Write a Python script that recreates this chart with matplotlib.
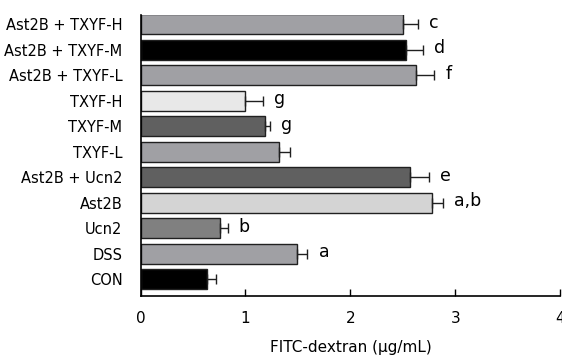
import matplotlib
matplotlib.use("Agg")
import matplotlib.pyplot as plt

categories = ["CON", "DSS", "Ucn2", "Ast2B", "Ast2B + Ucn2", "TXYF-L", "TXYF-M",
              "TXYF-H", "Ast2B + TXYF-L", "Ast2B + TXYF-M", "Ast2B + TXYF-H"]
values = [0.63, 1.49, 0.76, 2.78, 2.57, 1.32, 1.19, 1.00, 2.62, 2.53, 2.50]
errors = [0.09, 0.10, 0.07, 0.10, 0.18, 0.10, 0.04, 0.17, 0.18, 0.16, 0.14]
letters = ["", "a", "b", "a,b", "e", "", "g", "g", "f", "d", "c"]
colors = ["#000000", "#a0a0a4", "#808080", "#d4d4d4", "#606060", "#a0a0a4",
          "#606060", "#e8e8e8", "#a0a0a4", "#000000", "#a0a0a4"]
xticks = [0, 1, 2, 3, 4]

fig = plt.figure(figsize=(5.62, 3.60), dpi=100)
ax = fig.add_axes([0.25, 0.178, 0.9973 - 0.25, 0.958 - 0.178])

y = list(range(len(categories)))
ax.barh(y, values, height=0.78, color=colors, edgecolor="#202020", linewidth=1.0, zorder=2)
ax.errorbar(values, y, xerr=[[0] * len(errors), errors], fmt="none",
            ecolor="#202020", elinewidth=1.0, capsize=3.5, capthick=1.0, zorder=3)
for yi, v, e, t in zip(y, values, errors, letters):
    if t:
        ax.annotate(t, xy=(v + e, yi), xytext=(8, 1), textcoords="offset points",
                    ha="left", va="center", fontsize=12.5)

ax.set_xlim(0, 4)
ax.set_ylim(-0.65, 10.36)
ax.set_xticks(xticks)
ax.set_xticklabels([str(t) for t in xticks])
ax.set_yticks(y)
ax.set_yticklabels(categories)
ax.tick_params(axis="x", direction="in", length=5, width=1, pad=11, labelsize=11)
ax.tick_params(axis="y", direction="in", length=5, width=1, pad=13, labelsize=10.5)
for s in ["top", "right"]:
    ax.spines[s].set_visible(False)
for s in ["left", "bottom"]:
    ax.spines[s].set_linewidth(1.2)
ax.set_xlabel("FITC-dextran (μg/mL)", fontsize=11, labelpad=10)

fig.savefig("out.png", dpi=100)
